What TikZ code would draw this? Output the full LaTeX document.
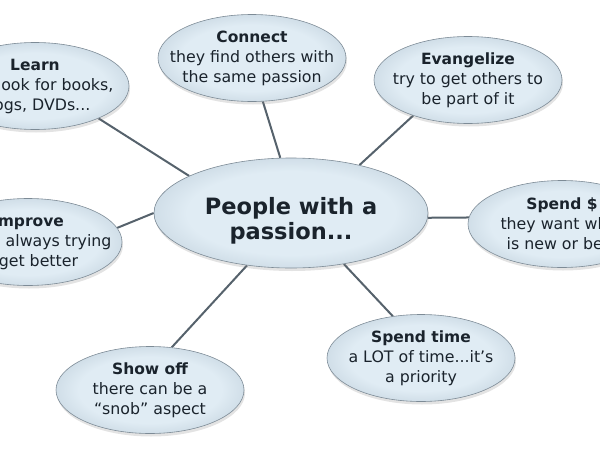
\documentclass[tikz,border=0pt]{standalone}
\usepackage{fontspec}
\setmainfont{DejaVu Sans}
\usetikzlibrary{shapes.geometric,shadows,backgrounds}
\definecolor{txt}{HTML}{1A232C}
\definecolor{bubin}{HTML}{E0ECF4}
\definecolor{bubmid}{HTML}{C6D5E0}
\definecolor{bubout}{HTML}{9DAEBB}
\definecolor{bubrim}{HTML}{B8C6D0}
\definecolor{rim}{HTML}{7D8B96}
\definecolor{con}{HTML}{56626C}
\pgfdeclareradialshading{bubshade}{\pgfpoint{0bp}{0bp}}{color(0bp)=(bubin); color(19bp)=(bubin); color(29bp)=(bubmid); color(34.3bp)=(bubout); color(35.4bp)=(bubrim); color(50bp)=(bubrim)}
\tikzset{
 bubble/.style={ellipse, draw=rim, line width=0.6pt, shading=bubshade,
   minimum width=188pt, minimum height=87pt, inner xsep=-30pt, inner ysep=-15pt, align=center, text=txt,
   font=\fontsize{15.8}{20}\selectfont,
   drop shadow={opacity=0.22, shadow xshift=1pt, shadow yshift=-3pt}},
 hub/.style={bubble, minimum width=274pt, minimum height=110pt},
 hubtext/.style={align=center, text=txt, inner sep=0pt, font=\fontsize{22.5}{25}\selectfont\bfseries},
 link/.style={draw=con, line width=2pt},
}
\newcommand{\ttl}[1]{{\fontsize{15.5}{21}\selectfont\bfseries #1}}
\begin{document}
\begin{tikzpicture}[x=1pt,y=-1pt]
\useasboundingbox (0,0) rectangle (600,450);
\clip (0,0) rectangle (600,450);
\node[hub] (main) at (291,213) {};
\node[hubtext] (maintext) at (291,221) {People with a\\passion...};
\node[bubble] (learn) at (35,86) {\ttl{Learn}\\they look for books,\\blogs, DVDs...};
\node[bubble] (connect) at (252,58) {\ttl{Connect}\\they find others with\\the same passion};
\node[bubble] (evang) at (468,80) {\ttl{Evangelize}\\try to get others to\\be part of it};
\node[bubble] (improve) at (28,242) {\ttl{Improve}\\they're always trying\\to get better};
\node[bubble] (spend) at (562,224) {\ttl{Spend \$}\\they want what\\is new or best};
\node[bubble] (show) at (150,390) {\ttl{Show off}\\there can be a\\``snob'' aspect};
\node[bubble] (time) at (421,358) {\ttl{Spend time}\\a LOT of time...it's\\a priority};
\begin{pgfonlayer}{background}
\draw[link] (learn.-27) -- (main.160);
\draw[link] (connect.-76) -- (main.101);
\draw[link] (evang.-147) -- (main.35);
\draw[link] (improve.9) -- (main.180);
\draw[link] (spend.176) -- (main.-2);
\draw[link] (show.63) -- (main.-130);
\draw[link] (time.124) -- (main.-44);
\end{pgfonlayer}
\end{tikzpicture}
\end{document}
